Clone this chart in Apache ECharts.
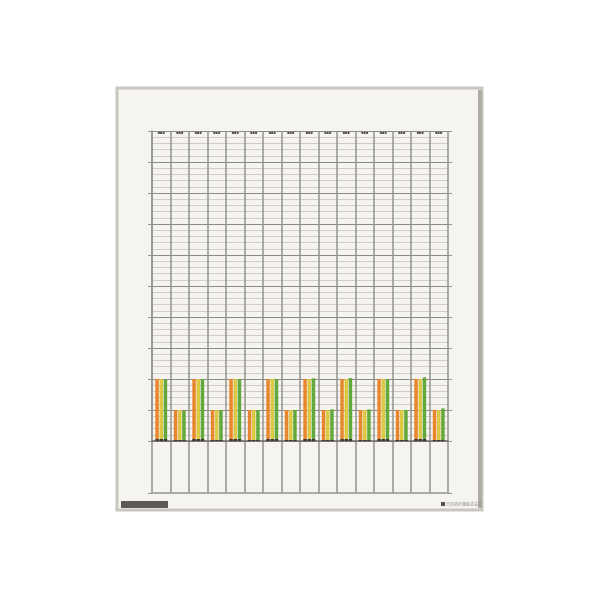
<!DOCTYPE html>
<html><head><meta charset="utf-8">
<script src="https://cdn.jsdelivr.net/npm/echarts@6/dist/echarts.min.js"></script>
<style>html,body{margin:0;padding:0;background:#fff}#c{width:600px;height:600px}</style>
</head><body><div id="c"></div>
<script>
var categories = ['1','2','3','4','5','6','7','8','9','10','11','12','13','14','15','16'];
var orangeValues = [2.0,1.0,2.0,1.0,2.0,1.0,2.0,1.0,2.0,1.0,2.0,1.0,2.0,1.0,2.0,1.0];
var yellowValues = [2.0,1.0,2.0,1.0,2.0,1.0,2.0,1.0,2.0,1.0,2.0,1.0,2.0,1.0,2.0,1.0];
var greenValues  = [1.98,0.98,2.0,1.0,2.0,1.0,2.0,1.0,2.02,1.02,2.03,1.02,2.0,1.0,2.05,1.05];
var seriesNames = ['A','B','C'];
var seriesColors = ['#e8862e','#dcc843','#62a83a'];

function barColor(c){
  return new echarts.graphic.LinearGradient(0,0,0,1,[
    {offset:0,color:c},{offset:0.97,color:c},{offset:0.97,color:'#3a3530'},{offset:1,color:'#3a3530'}]);
}
var chart = echarts.init(document.getElementById('c'));
var lineCol = '#95938e';
var allValues = [orangeValues, yellowValues, greenValues];
chart.setOption({
  backgroundColor:'#ffffff',
  animation:false,
  graphic:[
    {type:'rect', z:-10, shape:{x:117,y:88,width:365,height:422}, style:{fill:'#f6f4f0', stroke:'#c9c6c0', lineWidth:3}},
    {type:'rect', z:-9, shape:{x:478,y:90,width:4,height:418}, style:{fill:'#aeaca5'}},
    {type:'rect', z:-9, shape:{x:121,y:501,width:47,height:7}, style:{fill:'#5d5a55'}},
    {type:'rect', z:-9, shape:{x:441,y:502,width:4,height:4}, style:{fill:'#55524d'}},
    {type:'text', z:-9, style:{x:446,y:504, text:'日本統計機株式会社', fontSize:4, fill:'#8f8c86', verticalAlign:'middle', fontFamily:'Noto Sans CJK JP'}}
  ],
  grid:[
    {left:152, right:152, top:131, height:310},
    {left:152, right:152, top:441, height:52}
  ],
  xAxis:[
    {type:'category', gridIndex:0, data:categories, position:'top', boundaryGap:true,
     axisLine:{show:true, lineStyle:{color:'#6f6c68', width:1.5}},
     axisTick:{show:false},
     axisLabel:{show:true, inside:true, formatter:function(){return '■■■';}, fontSize:4, color:'#4a4744', margin:0},
     splitLine:{show:true, lineStyle:{color:lineCol, width:1.5}}},
    {type:'category', gridIndex:1, data:categories, position:'bottom', boundaryGap:true,
     axisLine:{show:true, lineStyle:{color:lineCol, width:1.5}},
     axisTick:{show:false}, axisLabel:{show:false},
     splitLine:{show:true, lineStyle:{color:lineCol, width:1.5}}}
  ],
  yAxis:[
    {type:'value', gridIndex:0, min:0, max:10, interval:1, position:'left',
     axisLine:{show:true, lineStyle:{color:lineCol, width:1.5}},
     axisTick:{show:true, inside:false, length:4, lineStyle:{color:lineCol}},
     axisLabel:{show:false},
     splitLine:{show:true, lineStyle:{color:'#8c8a85', width:1.2}},
     minorTick:{show:false, splitNumber:5},
     minorSplitLine:{show:true, lineStyle:{color:'#d2cfc9', width:1}}},
    {type:'value', gridIndex:0, min:0, max:10, interval:1, position:'right',
     axisLine:{show:false}, axisTick:{show:true, length:4, lineStyle:{color:lineCol}},
     axisLabel:{show:false}, splitLine:{show:false}},
    {type:'value', gridIndex:1, min:0, max:1, interval:1, position:'left',
     axisLine:{show:false}, axisTick:{show:true, length:4, lineStyle:{color:lineCol}},
     axisLabel:{show:false}, splitLine:{show:false}},
    {type:'value', gridIndex:1, min:0, max:1, interval:1, position:'right',
     axisLine:{show:false}, axisTick:{show:true, length:4, lineStyle:{color:lineCol}},
     axisLabel:{show:false}, splitLine:{show:false}}
  ],
  series: seriesNames.map(function(n,i){
    return {name:n, type:'bar', xAxisIndex:0, yAxisIndex:0, data:allValues[i],
      barWidth:3.5, barGap:'20%', itemStyle:{color:barColor(seriesColors[i])}, z:5};
  })
});
</script></body></html>
